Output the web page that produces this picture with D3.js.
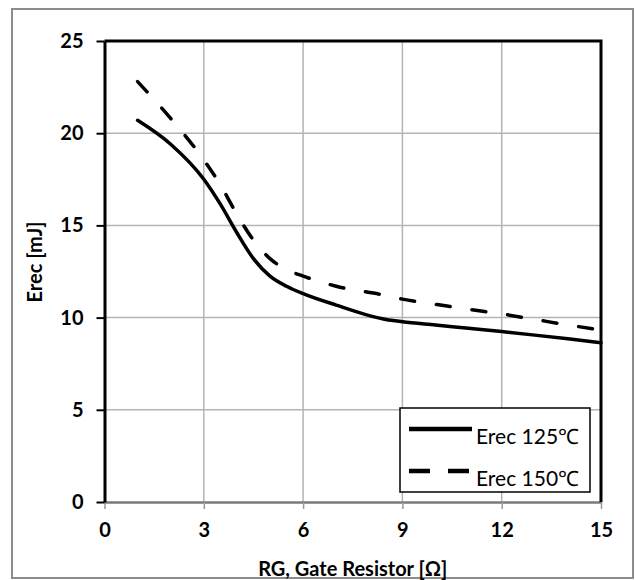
<!DOCTYPE html>
<html>
<head>
<meta charset="utf-8">
<script src="https://cdn.jsdelivr.net/npm/d3@7"></script>
<style>
  body { margin: 0; background: #fff; }
  text { font-family: Lato, "Open Sans", sans-serif; }
</style>
</head>
<body>
<svg id="chart" width="635" height="580"></svg>
<script>
// gate resistor values and Erec readings for each junction temperature
var rg = [1, 2, 3, 3.5, 4, 4.5, 5, 5.5, 6, 7, 8.5, 9, 10, 11, 12, 13, 14, 15];
var erec125 = [20.7, 19.4, 17.5, 16.15, 14.6, 13.2, 12.25, 11.7, 11.3, 10.68, 9.9, 9.78, 9.6, 9.42, 9.24, 9.05, 8.85, 8.64];
var erec150 = [22.8, 20.8, 18.55, 17.2, 15.6, 14.2, 13.2, 12.6, 12.25, 11.7, 11.2, 11.0, 10.72, 10.45, 10.2, 9.9, 9.6, 9.33];
var xTicks = [0, 3, 6, 9, 12, 15];
var yTicks = [0, 5, 10, 15, 20, 25];
var seriesNames = ["Erec 125\u2103", "Erec 150\u2103"];

var svg = d3.select("#chart");
var plotL = 104.5, plotR = 601, plotT = 41, plotB = 502;

var x = d3.scaleLinear().domain([0, 15]).range([plotL, plotR]);
var y = d3.scaleLinear().domain([0, 25]).range([plotB, plotT]);

// outer frame
svg.append("rect")
  .attr("x", 12).attr("y", 9).attr("width", 621).attr("height", 569)
  .attr("fill", "none").attr("stroke", "#8c8c8c").attr("stroke-width", 2);

// grid
svg.append("g").selectAll("line").data(yTicks.slice(1, -1)).join("line")
  .attr("x1", plotL).attr("x2", plotR)
  .attr("y1", d => y(d)).attr("y2", d => y(d))
  .attr("stroke", "#b4b4b4").attr("stroke-width", 1.5);
svg.append("g").selectAll("line").data(xTicks.slice(1, -1)).join("line")
  .attr("y1", plotT).attr("y2", plotB)
  .attr("x1", d => x(d)).attr("x2", d => x(d))
  .attr("stroke", "#b4b4b4").attr("stroke-width", 1.5);

// x axis (grey)
var xAxis = svg.append("g").attr("transform", "translate(0," + plotB + ")")
  .call(d3.axisBottom(x).tickValues(xTicks).tickSize(7).tickSizeOuter(0));
xAxis.select(".domain").attr("stroke", "#7a7a7a").attr("stroke-width", 2.5);
xAxis.selectAll(".tick line").attr("stroke", "#999").attr("stroke-width", 1.5);
xAxis.selectAll(".tick text").attr("dy", null).attr("y", 35)
  .attr("font-size", 20).attr("font-weight", "bold").attr("fill", "#000")
  .style("font-family", "Lato, sans-serif");

// y axis (black)
var yAxis = svg.append("g").attr("transform", "translate(" + plotL + ",0)")
  .call(d3.axisLeft(y).tickValues(yTicks).tickSize(8).tickSizeOuter(0));
yAxis.select(".domain").attr("stroke", "#000").attr("stroke-width", 3);
yAxis.selectAll(".tick line").attr("stroke", "#000").attr("stroke-width", 2);
yAxis.selectAll(".tick text").attr("x", -21)
  .attr("font-size", 20).attr("font-weight", "bold").attr("fill", "#000")
  .style("font-family", "Lato, sans-serif");

// top and right border of plot area
svg.append("path")
  .attr("d", "M" + plotL + "," + plotT + "H" + plotR + "V" + plotB)
  .attr("fill", "none").attr("stroke", "#000").attr("stroke-width", 3);

// curves
var line = d3.line().x(d => x(d[0])).y(d => y(d[1])).curve(d3.curveMonotoneX);
svg.append("path").datum(d3.zip(rg, erec125)).attr("d", line)
  .attr("fill", "none").attr("stroke", "#000").attr("stroke-width", 3.5)
  .attr("stroke-linecap", "round").attr("stroke-linejoin", "round");
svg.append("path").datum(d3.zip(rg, erec150)).attr("d", line)
  .attr("fill", "none").attr("stroke", "#000").attr("stroke-width", 3.5)
  .attr("stroke-linecap", "round").attr("stroke-dasharray", "14,22");

// axis titles
svg.append("text").attr("x", x(7.5)).attr("y", 576)
  .attr("text-anchor", "middle").attr("font-size", 20).attr("font-weight", "bold")
  .text("RG, Gate Resistor [\u03a9]");
svg.append("text").attr("transform", "translate(42,262) rotate(-90)")
  .attr("text-anchor", "middle").attr("font-size", 20).attr("font-weight", "bold")
  .text("Erec [mJ]");

// legend
var lg = svg.append("g");
lg.append("rect").attr("x", 400).attr("y", 408).attr("width", 190).attr("height", 84)
  .attr("fill", "#fff").attr("stroke", "#000").attr("stroke-width", 1.5);
var dashes = [null, "21,18"];
seriesNames.forEach(function (name, i) {
  var ly = 429 + i * 42;
  lg.append("line").attr("x1", 409).attr("x2", 472).attr("y1", ly).attr("y2", ly)
    .attr("stroke", "#000").attr("stroke-width", 4.5)
    .attr("stroke-dasharray", dashes[i]);
  lg.append("text").attr("x", 476).attr("y", ly + 15)
    .attr("font-size", 21).attr("fill", "#000").text(name);
});
</script>
</body>
</html>
